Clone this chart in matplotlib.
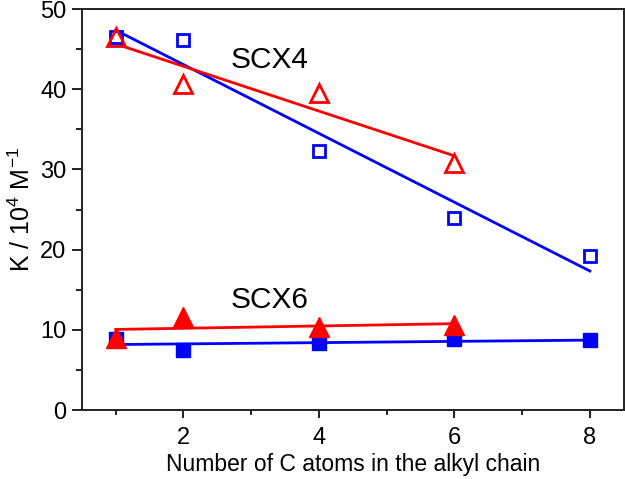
import matplotlib
matplotlib.use("Agg")
import matplotlib.pyplot as plt
import numpy as np
from matplotlib.ticker import MultipleLocator

plt.rcParams["font.family"] = ["Liberation Sans", "DejaVu Sans"]
plt.rcParams["mathtext.fontset"] = "custom"
plt.rcParams["mathtext.rm"] = "Liberation Sans"

# SCX4 (open markers)
scx4_tri_x = [1, 2, 4, 6]
scx4_tri_y = [46.5, 40.7, 39.5, 30.8]
scx4_sq_x = [1, 2, 4, 6, 8]
scx4_sq_y = [46.5, 46.2, 32.3, 24.0, 19.2]

# SCX6 (filled markers)
scx6_tri_x = [1, 2, 4, 6]
scx6_tri_y = [9.0, 11.6, 10.3, 10.6]
scx6_sq_x = [1, 2, 4, 6, 8]
scx6_sq_y = [8.8, 7.5, 8.3, 8.8, 8.7]

RED = "#ff0000"
BLUE = "#0000ff"


def fit_line(ax, x, y, color):
    x = np.asarray(x, dtype=float)
    k, b = np.polyfit(x, y, 1)
    xs = np.array([x.min(), x.max()])
    ax.plot(xs, k * xs + b, color=color, linewidth=2, zorder=2)


fig = plt.figure(figsize=(6.25, 4.79), dpi=100)
ax = fig.add_axes([0.131, 0.144, 0.867, 0.837])

fit_line(ax, scx4_sq_x, scx4_sq_y, BLUE)
fit_line(ax, scx4_tri_x, scx4_tri_y, RED)
fit_line(ax, scx6_sq_x, scx6_sq_y, BLUE)
fit_line(ax, scx6_tri_x, scx6_tri_y, RED)

ax.plot(scx4_sq_x, scx4_sq_y, "s", ms=8.5, mfc="none", mec=BLUE, mew=2,
        linestyle="none", zorder=3)
ax.plot(scx4_tri_x, scx4_tri_y, "^", ms=13.5, mfc="none", mec=RED, mew=2,
        linestyle="none", zorder=3)
ax.plot(scx6_sq_x, scx6_sq_y, "s", ms=10, color=BLUE, linestyle="none", zorder=3)
ax.plot(scx6_tri_x, scx6_tri_y, "^", ms=14, color=RED, linestyle="none", zorder=3)

ax.text(2.7, 42.6, "SCX4", fontsize=21.5)
ax.text(2.7, 12.7, "SCX6", fontsize=21.5)

ax.set_xlim(0.5, 8.5)
ax.set_ylim(0, 50)
ax.xaxis.set_major_locator(MultipleLocator(2))
ax.xaxis.set_minor_locator(MultipleLocator(1))
ax.yaxis.set_major_locator(MultipleLocator(10))
ax.yaxis.set_minor_locator(MultipleLocator(5))
ax.tick_params(which="both", direction="out", labelsize=17, width=1.4,
               top=False, right=False, colors="#222222", labelcolor="black")
ax.tick_params(axis="x", which="major", length=6, pad=6)
ax.tick_params(axis="x", which="minor", length=3.5)
ax.tick_params(axis="y", which="major", length=7, pad=4)
ax.tick_params(axis="y", which="minor", length=4)
for s in ax.spines.values():
    s.set_linewidth(1.4)
    s.set_color("#222222")

ax.set_xlabel("Number of C atoms in the alkyl chain", fontsize=16.5, labelpad=3)
ax.set_ylabel(r"K / 10$^{4}$ M$^{\mathrm{-1}}$", fontsize=18, labelpad=4)

fig.savefig("out.png", dpi=100)
